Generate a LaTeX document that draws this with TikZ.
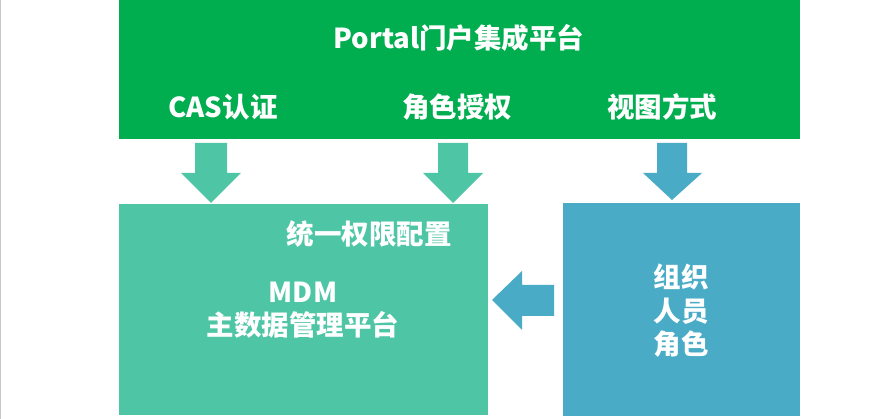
\documentclass[tikz,border=0pt]{standalone}
\usepackage{fontspec}
\setmainfont{Noto Sans CJK SC}
\definecolor{portalgreen}{RGB}{0,174,80}
\definecolor{mdmteal}{RGB}{78,198,166}
\definecolor{orgblue}{RGB}{74,171,198}
\definecolor{edgegray}{RGB}{200,200,200}
\begin{document}
\begin{tikzpicture}[x=1pt,y=-1pt,
  box/.style={draw=none,inner sep=0pt,outer sep=0pt,anchor=north west},
  lbl/.style={text=white,inner sep=0pt,font=\fontsize{27.5}{33.5}\selectfont\bfseries,align=center}]
\useasboundingbox (0,0) rectangle (895,419);
\draw[edgegray,line width=1pt] (0.5,0) -- (0.5,419);
% blocks
\node[box,fill=portalgreen,minimum width=681pt,minimum height=139pt] (portal) at (119,0) {};
\node[box,fill=mdmteal,minimum width=369pt,minimum height=211pt] (mdm) at (119,204) {};
\node[box,fill=orgblue,minimum width=237pt,minimum height=213pt] (org) at (563,203) {};
% block arrows
\fill[mdmteal] (195,143) -- (227,143) -- (227,173) -- (241,173) -- (211,203) -- (181,173) -- (195,173) -- cycle;
\fill[mdmteal] (438,143) -- (468,143) -- (468,173) -- (483,173) -- (453,203) -- (423,173) -- (438,173) -- cycle;
\fill[orgblue] (657,143) -- (687,143) -- (687,173) -- (702,173) -- (672,200) -- (643,173) -- (657,173) -- cycle;
\fill[orgblue] (554,285) -- (554,316) -- (522,316) -- (522,330) -- (492,300) -- (522,271) -- (522,285) -- cycle;
% labels
\node[lbl] (title) at (459,38) {Portal门户集成平台};
\node[lbl] (cas) at (223,107) {CAS认证};
\node[lbl] (role) at (457,107) {角色授权};
\node[lbl] (view) at (662,107) {视图方式};
\node[lbl] (perm) at (369,234) {统一权限配置};
\node[lbl] (mdmtxt) at (303,310) {MDM\\主数据管理平台};
\node[lbl] (orgtxt) at (681,311) {组织\\人员\\角色};
\end{tikzpicture}
\end{document}
